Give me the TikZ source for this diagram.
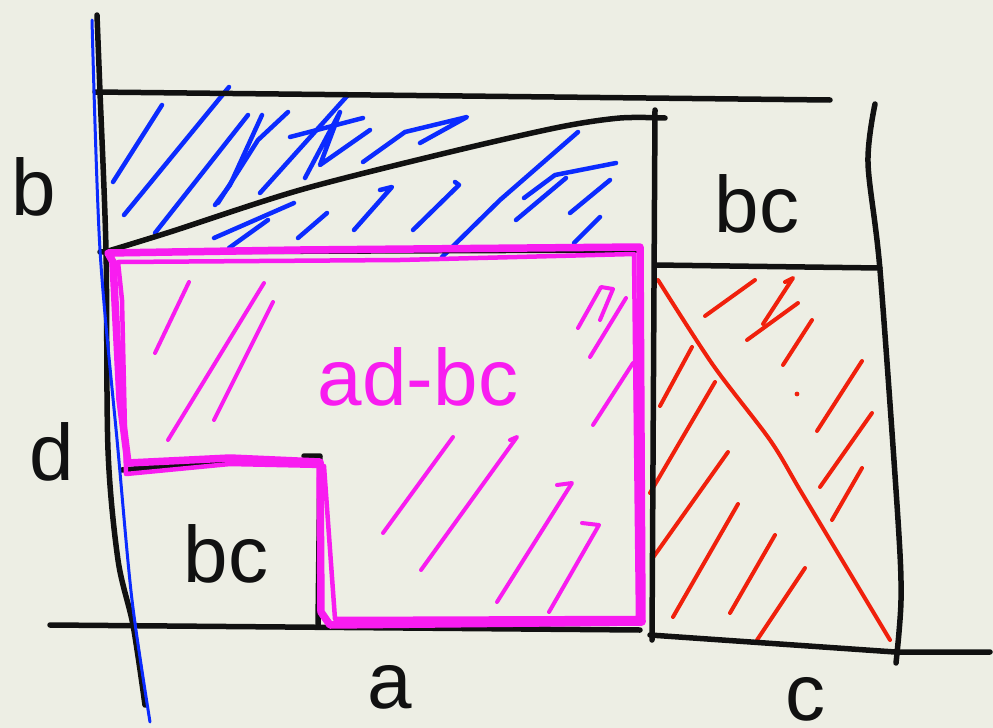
\documentclass[tikz,border=0pt]{standalone}
\usepackage{fontspec}
\setmainfont{Liberation Sans}
\definecolor{paper}{HTML}{EDEEE4}
\definecolor{pen}{HTML}{111111}
\definecolor{bluepen}{HTML}{0B2BFF}
\definecolor{magpen}{HTML}{F81CF0}
\definecolor{redpen}{HTML}{F0200C}
\tikzset{
  blk/.style={draw=pen, line width=5.5pt, line cap=round, line join=round},
  bluestroke/.style={draw=bluepen, line width=4.5pt, line cap=round, line join=round},
  redstroke/.style={draw=redpen, line width=4pt, line cap=round, line join=round},
  magstroke/.style={draw=magpen, line width=4pt, line cap=round, line join=round},
  magedge/.style={draw=magpen, line width=7.5pt, line cap=round, line join=round},
  lbl/.style={font=\fontsize{80}{80}\selectfont, text=pen, inner sep=0pt, anchor=base},
}
\begin{document}
\begin{tikzpicture}[x=1pt,y=-1pt]
\useasboundingbox (0,0) rectangle (993,728);
\fill[paper] (0,0) rectangle (993,728);

% ---------- blue hatching (top band) ----------
\draw[bluestroke] (113,182) -- (162,105);
\draw[bluestroke] (124,215) -- (229,87);
\draw[bluestroke] (155,233) -- (248,115);
\draw[bluestroke] (218,203) -- (258,140) -- (288,112);
\draw[bluestroke] (215,205) -- (230,185) -- (262,115);
\draw[bluestroke] (260,193) -- (348,95);
\draw[bluestroke] (290,137) -- (363,118);
\draw[bluestroke] (305,178) -- (340,112) -- (320,165) -- (370,130);
\draw[bluestroke] (363,162) -- (405,132) -- (467,117) -- (420,143);
\draw[bluestroke] (214,238) -- (294,203);
\draw[bluestroke] (229,248) -- (268,220);
\draw[bluestroke] (298,238) -- (327,213);
\draw[bluestroke] (354,230) -- (392,187) -- (380,190);
\draw[bluestroke] (413,230) -- (459,185) -- (455,182);
\draw[bluestroke] (442,257) -- (500,200) -- (578,132);
\draw[bluestroke] (516,220) -- (566,178);
\draw[bluestroke] (524,198) -- (555,175) -- (616,163);
\draw[bluestroke] (570,213) -- (610,180);
\draw[bluestroke] (574,243) -- (600,217);

% ---------- red hatching (right middle cell) ----------
\draw[redstroke] plot[smooth] coordinates {(658,280) (713,365) (770,440) (800,490) (845,565) (890,640)};
\draw[redstroke] (705,316) -- (755,280);
\draw[redstroke] (747,340) -- (798,303);
\draw[redstroke] (763,324) -- (793,278) -- (785,282);
\draw[redstroke] (783,365) -- (812,320);
\fill[redpen] (797,394) circle (2.4pt);
\draw[redstroke] (660,406) -- (692,347);
\draw[redstroke] (650,493) -- (715,382);
\draw[redstroke] (652,559) -- (728,452);
\draw[redstroke] (673,617) -- (738,504);
\draw[redstroke] (730,613) -- (775,535);
\draw[redstroke] (757,640) -- (805,568);
\draw[redstroke] (817,431) -- (862,361);
\draw[redstroke] (820,487) -- (872,413);
\draw[redstroke] (832,520) -- (862,468);

% ---------- magenta hatching ----------
\draw[magstroke] (155,353) -- (189,282);
\draw[magstroke] (168,440) -- (264,283);
\draw[magstroke] (214,420) -- (273,302);
\draw[magstroke] (578,328) -- (601,287) -- (613,289) -- (600,320);
\draw[magstroke] (590,357) -- (626,298);
\draw[magstroke] (593,425) -- (633,363);
\draw[magstroke] (383,533) -- (453,437);
\draw[magstroke] (421,570) -- (517,437) -- (510,440);
\draw[magstroke] (497,602) -- (572,483) -- (557,485);
\draw[magstroke] (549,612) -- (599,525) -- (582,523);

% ---------- black frame lines ----------
\draw[blk] plot[smooth] coordinates {(97,15) (100,92) (106,250) (108,450) (118,560) (133,625) (145,705)};
\draw[blk] (95,92) -- (830,100);
\draw[blk] plot[smooth] coordinates {(105,252) (170,232) (300,190) (450,152) (560,127) (620,118) (665,118)};
\draw[blk] (100,252) -- (640,250);
\draw[blk] (655,110) -- (652,640);
\draw[blk] (655,265) -- (880,268);
\draw[blk] plot[smooth] coordinates {(875,104) (868,163) (880,270) (898,520) (901,600) (896,663)};
\draw[blk] (50,625) -- (640,630);
\draw[blk] (650,635) -- (895,652) -- (990,652);
\draw[blk] (304,456) -- (320,456) -- (318,625);
\draw[blk] (122,470) -- (240,460);

% ---------- blue line ----------
\draw[draw=bluepen, line width=3pt, line cap=round] plot[smooth] coordinates {(92,20) (100,250) (118,450) (132,600) (150,722)};

% ---------- magenta L outline ----------
\draw[magedge] (108,253) -- (300,250) -- (640,247) -- (642,622) -- (330,625)
  -- (321,612) -- (320,462) -- (230,458) -- (128,463) -- (120,400) -- (113,262) -- cycle;
\draw[magedge, line width=4.5pt] (118,262) -- (400,260) -- (634,254) -- (638,618) -- (335,619)
  -- (324,466) -- (230,464) -- (126,474) -- (122,300) -- cycle;

% ---------- labels ----------
\node[lbl] (lb) at (34,215) {b};
\node[lbl] (ld) at (52,480) {d};
\node[lbl] (lbcl) at (226,582) {bc};
\node[lbl] (lbcr) at (757,232) {bc};
\node[lbl] (la) at (390,708) {a};
\node[lbl] (lc) at (805,720) {c};
\node[lbl, text=magpen] (ladbc) at (418,405) {ad-bc};
\end{tikzpicture}
\end{document}
